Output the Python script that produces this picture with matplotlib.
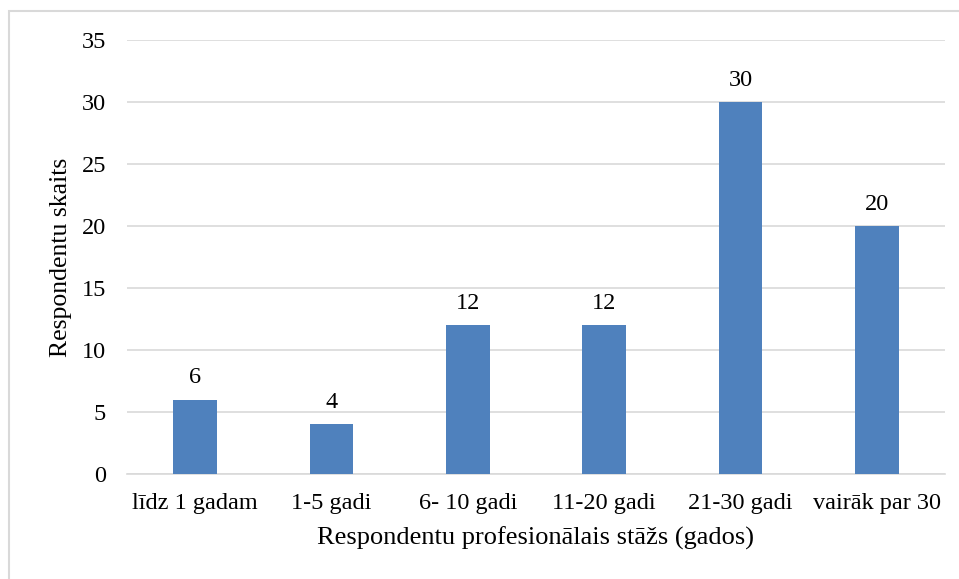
import matplotlib
matplotlib.use('Agg')
import matplotlib.pyplot as plt
from matplotlib.patches import Rectangle

plt.rcParams['font.family'] = ['Liberation Serif', 'DejaVu Serif']

# dati
categories = ['līdz 1 gadam', '1-5 gadi', '6- 10 gadi', '11-20 gadi', '21-30 gadi', 'vairāk par 30']
counts = [6, 4, 12, 12, 30, 20]
yticks = [0, 5, 10, 15, 20, 25, 30, 35]

fig = plt.figure(figsize=(9.59, 5.79), dpi=100)
ax = fig.add_axes([0.1324, 0.1813, 0.853, 0.7496])

# ramis ap attēlu (tikai kreisā un augšējā mala redzama)
fig.patches.append(Rectangle((0.0099, -0.05), 1.2, 1.0316, transform=fig.transFigure,
                             fill=False, edgecolor='#D9D9D9', linewidth=1.5))

x = range(len(categories))
bars = ax.bar(x, counts, width=0.32, color='#4F81BD', zorder=3)

ax.set_xlim(-0.5, len(categories) - 0.5)
ax.set_ylim(0, 35)
ax.set_yticks(yticks)
ax.set_xticks(list(x))
ax.set_xticklabels(categories)
ax.tick_params(axis='both', length=0, labelsize=17.5, colors='black')
ax.tick_params(axis='x', pad=14)
ax.tick_params(axis='y', pad=15)

ax.grid(axis='y', color='#D9D9D9', linewidth=1.2, zorder=0)
for s in ['top', 'right', 'left']:
    ax.spines[s].set_visible(False)
ax.spines['bottom'].set_color('#D9D9D9')
ax.spines['bottom'].set_linewidth(1.2)

# vērtību etiķetes
for bar in bars:
    ax.text(bar.get_x() + bar.get_width() / 2, bar.get_height() + 0.9, f'{int(bar.get_height())}',
            ha='center', va='bottom', fontsize=17.5)

ax.set_xlabel('Respondentu profesionālais stāžs (gados)', fontsize=19, labelpad=9)
ax.set_ylabel('Respondentu skaits', fontsize=18.5, labelpad=7)

fig.savefig('out.png', dpi=100)
